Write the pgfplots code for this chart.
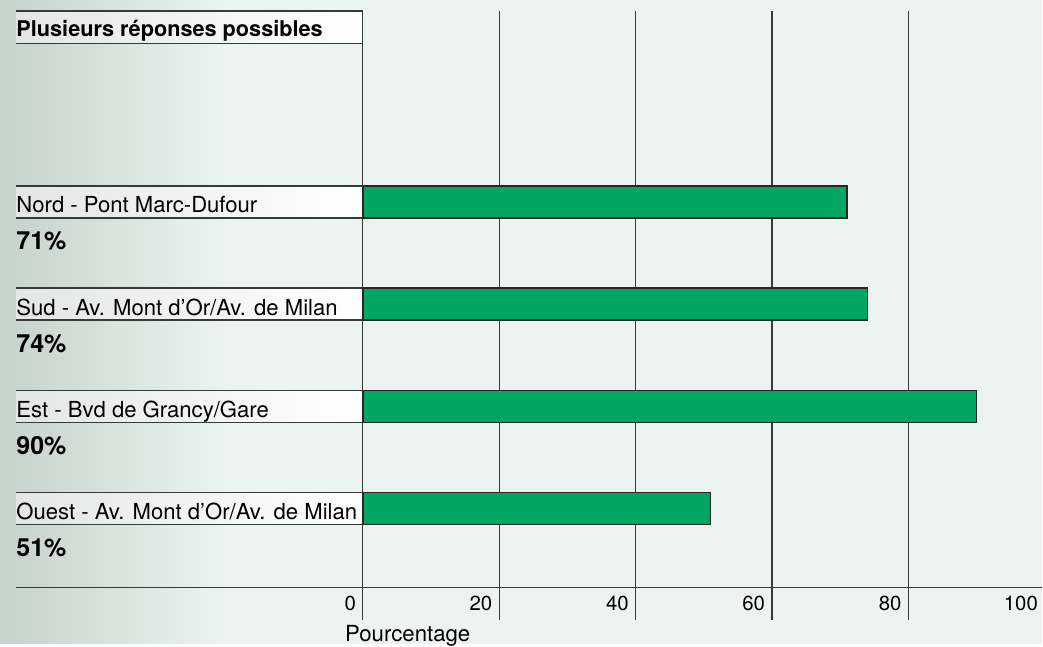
\documentclass[border=0pt]{standalone}
\usepackage{fontspec}
\setmainfont{TeX Gyre Heros}
\usepackage{pgfplots}
\pgfplotsset{compat=1.18}
\definecolor{bgmint}{HTML}{EBF4F0}
\definecolor{bgleft}{HTML}{C8D4CE}
\definecolor{boxl}{HTML}{E4E6E5}
\definecolor{barg}{HTML}{00A661}
\definecolor{rulec}{HTML}{363B39}
\begin{document}
\begin{tikzpicture}
\begin{axis}[scale only axis, width=521.5pt, height=322pt,
  xmin=-53.19, xmax=99.63, ymin=0, ymax=644, y dir=reverse,
  hide axis, clip=false]
% background
\fill[bgmint] (axis cs:-53.19,0) rectangle (axis cs:99.63,644);
\fill[bgleft] (axis cs:-53.19,0) rectangle (axis cs:-50.84,644);
\shade[left color=bgleft, right color=bgmint] (axis cs:-50.84,0) rectangle (axis cs:-20,644);
% label boxes
\shade[left color=boxl, right color=white] (axis cs:-50.84,11.5) rectangle (axis cs:0,43.5);
\draw[rulec, line width=1pt] (axis cs:-50.84,11.5) -- (axis cs:0,11.5);
\draw[rulec, line width=0.7pt] (axis cs:-50.84,43.5) -- (axis cs:0,43.5);
\shade[left color=boxl, right color=white] (axis cs:-50.84,186) rectangle (axis cs:0,218);
\draw[rulec, line width=0.7pt] (axis cs:-50.84,186) -- (axis cs:0,186);
\draw[rulec, line width=0.7pt] (axis cs:-50.84,218) -- (axis cs:0,218);
\shade[left color=boxl, right color=white] (axis cs:-50.84,288.3) rectangle (axis cs:0,320.3);
\draw[rulec, line width=0.7pt] (axis cs:-50.84,288.3) -- (axis cs:0,288.3);
\draw[rulec, line width=0.7pt] (axis cs:-50.84,320.3) -- (axis cs:0,320.3);
\shade[left color=boxl, right color=white] (axis cs:-50.84,390.7) rectangle (axis cs:0,422.7);
\draw[rulec, line width=0.7pt] (axis cs:-50.84,390.7) -- (axis cs:0,390.7);
\draw[rulec, line width=0.7pt] (axis cs:-50.84,422.7) -- (axis cs:0,422.7);
\shade[left color=boxl, right color=white] (axis cs:-50.84,493) rectangle (axis cs:0,525);
\draw[rulec, line width=0.7pt] (axis cs:-50.84,493) -- (axis cs:0,493);
\draw[rulec, line width=0.7pt] (axis cs:-50.84,525) -- (axis cs:0,525);
% grid lines
\addplot[rulec, line width=0.6pt] coordinates {(0,11) (0,620)};
\addplot[rulec, line width=0.6pt] coordinates {(20,11) (20,620)};
\addplot[rulec, line width=0.6pt] coordinates {(40,11) (40,620)};
\addplot[rulec, line width=0.6pt] coordinates {(60,11) (60,620)};
\addplot[rulec, line width=0.6pt] coordinates {(80,11) (80,620)};
% axis line
\addplot[rulec, line width=0.8pt] coordinates {(-50.84,588) (99.63,588)};
% bars
\addplot[xbar, bar width=32, fill=barg, draw=black!85, line width=0.75pt]
  coordinates {(71,202) (74,304.3) (90,406.7) (51,509)};
% texts
\node[anchor=base west, inner sep=0pt, font=\fontsize{10.85}{12}\selectfont\bfseries] at (axis cs:-50.84,37) {Plusieurs réponses possibles};
\node[anchor=base west, inner sep=0pt, font=\fontsize{11.05}{12}\selectfont] at (axis cs:-50.84,213) {Nord - Pont Marc-Dufour};
\node[anchor=base west, inner sep=0pt, font=\fontsize{11.05}{12}\selectfont] at (axis cs:-50.84,315.3) {Sud - Av. Mont d’Or/Av. de Milan};
\node[anchor=base west, inner sep=0pt, font=\fontsize{11.05}{12}\selectfont] at (axis cs:-50.84,417.7) {Est - Bvd de Grancy/Gare};
\node[anchor=base west, inner sep=0pt, font=\fontsize{11.05}{12}\selectfont] at (axis cs:-50.84,520) {Ouest - Av. Mont d’Or/Av. de Milan};
\node[anchor=base west, inner sep=0pt, font=\fontsize{12.5}{14}\selectfont\bfseries] at (axis cs:-50.84,250) {71\%};
\node[anchor=base west, inner sep=0pt, font=\fontsize{12.5}{14}\selectfont\bfseries] at (axis cs:-50.84,352.3) {74\%};
\node[anchor=base west, inner sep=0pt, font=\fontsize{12.5}{14}\selectfont\bfseries] at (axis cs:-50.84,454.7) {90\%};
\node[anchor=base west, inner sep=0pt, font=\fontsize{12.5}{14}\selectfont\bfseries] at (axis cs:-50.84,557) {51\%};
% tick labels
\node[anchor=base east, inner sep=0pt, font=\fontsize{10.2}{12}\selectfont] at (axis cs:-0.95,611) {0};
\node[anchor=base east, inner sep=0pt, font=\fontsize{10.2}{12}\selectfont] at (axis cs:19.05,611) {20};
\node[anchor=base east, inner sep=0pt, font=\fontsize{10.2}{12}\selectfont] at (axis cs:39.05,611) {40};
\node[anchor=base east, inner sep=0pt, font=\fontsize{10.2}{12}\selectfont] at (axis cs:59.05,611) {60};
\node[anchor=base east, inner sep=0pt, font=\fontsize{10.2}{12}\selectfont] at (axis cs:79.05,611) {80};
\node[anchor=base east, inner sep=0pt, font=\fontsize{10.2}{12}\selectfont] at (axis cs:99.05,611) {100};
\node[anchor=base west, inner sep=0pt, font=\fontsize{11.1}{12}\selectfont] at (axis cs:-2.64,642) {Pourcentage};
\end{axis}
\end{tikzpicture}
\end{document}
